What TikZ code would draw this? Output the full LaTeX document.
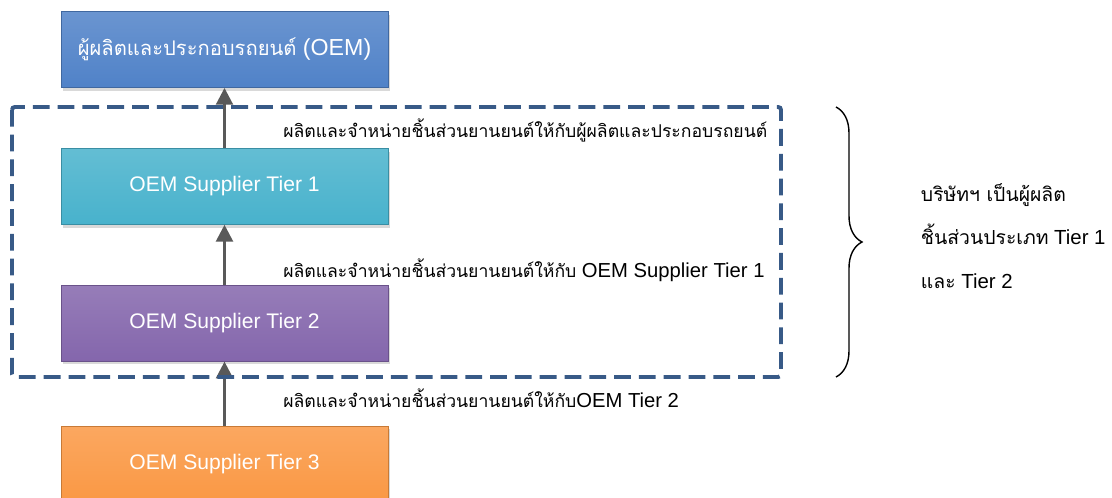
\documentclass[tikz,border=0pt]{standalone}
\usepackage{fontspec}
\setmainfont{Liberation Sans}
\newfontfamily\thaifont[Script=Thai,Scale=0.87]{Loma}
\newfontfamily\thaibig[Script=Thai,Scale=0.95]{Loma}
\usepackage{xcolor}
\usepackage{tikz}
\usetikzlibrary{arrows.meta,shadows,positioning,decorations.pathreplacing}

\definecolor{oemblue}{RGB}{80,130,200}
\definecolor{tiercyan}{RGB}{72,178,204}
\definecolor{tierpurple}{RGB}{132,102,172}
\definecolor{tierorange}{RGB}{250,152,68}
\definecolor{framedark}{RGB}{56,90,135}
\definecolor{arrowgray}{RGB}{89,89,89}

\tikzset{
  tierbox/.style={rectangle, minimum width=8.175cm, minimum height=1.9cm,
    text=white, font=\fontsize{15}{18}\selectfont, line width=0.6pt,
    drop shadow={shadow xshift=0.06cm, shadow yshift=-0.08cm, opacity=0.3}},
  supply/.style={draw=arrowgray, line width=2pt,
    -{Triangle[length=0.42cm,width=0.42cm]}},
  sale/.style={anchor=west, inner sep=0pt, font=\fontsize{14.4}{16}\selectfont},
}

\begin{document}
\begin{tikzpicture}[node distance=1.5cm]
  \useasboundingbox (0,0) rectangle (27.8,-12.45);

  % supply chain boxes
  \node[tierbox, top color=oemblue!85!white, bottom color=oemblue, draw=oemblue!80!black,
        font=\fontsize{16.5}{20}\selectfont] (oem) at (5.6125,-1.2375)
        {{\thaifont ผู้ผลิตและประกอบรถยนต์} (OEM)};
  \node[tierbox, top color=tiercyan!85!white, bottom color=tiercyan, draw=tiercyan!80!black,
        below=of oem] (tier1) {OEM Supplier Tier 1};
  \node[tierbox, top color=tierpurple!85!white, bottom color=tierpurple, draw=tierpurple!80!black,
        below=of tier1] (tier2) {OEM Supplier Tier 2};
  \node[tierbox, top color=tierorange!85!white, bottom color=tierorange, draw=tierorange!80!black,
        below=1.6cm of tier2] (tier3) {OEM Supplier Tier 3};

  \draw[supply] (tier1) -- (oem);
  \draw[supply] (tier2) -- (tier1);
  \draw[supply] (tier3) -- (tier2);

  % what each tier sells
  \node[sale] (sale1) at (7.075,-3.25) {\thaifont ผลิตและจำหน่ายชิ้นส่วนยานยนต์ให้กับผู้ผลิตและประกอบรถยนต์};
  \node[sale] (sale2) at (7.075,-6.75) {{\thaifont ผลิตและจำหน่ายชิ้นส่วนยานยนต์ให้กับ} OEM Supplier Tier 1};
  \node[sale] (sale3) at (7.075,-9.95) {{\thaifont ผลิตและจำหน่ายชิ้นส่วนยานยนต์ให้กับ}OEM Tier 2};

  % company scope
  \draw[framedark, line width=2.8pt, dash pattern=on 0.42cm off 0.2cm, rounded corners=2pt]
    (0.3,-2.675) rectangle (19.525,-9.425);
  \draw[line width=1pt, decorate, decoration={brace, amplitude=0.65cm}]
    (20.9,-2.675) -- coordinate[xshift=0.65cm] (tip) (20.9,-9.425);
  \node[anchor=west, align=left, font=\fontsize{14.5}{31}\selectfont] (scope) at (22.9,-5.9)
    {{\thaibig บริษัทฯ เป็นผู้ผลิต}\\ {\thaibig ชิ้นส่วนประเภท} Tier 1\\ {\thaibig และ} Tier 2};
\end{tikzpicture}
\end{document}
